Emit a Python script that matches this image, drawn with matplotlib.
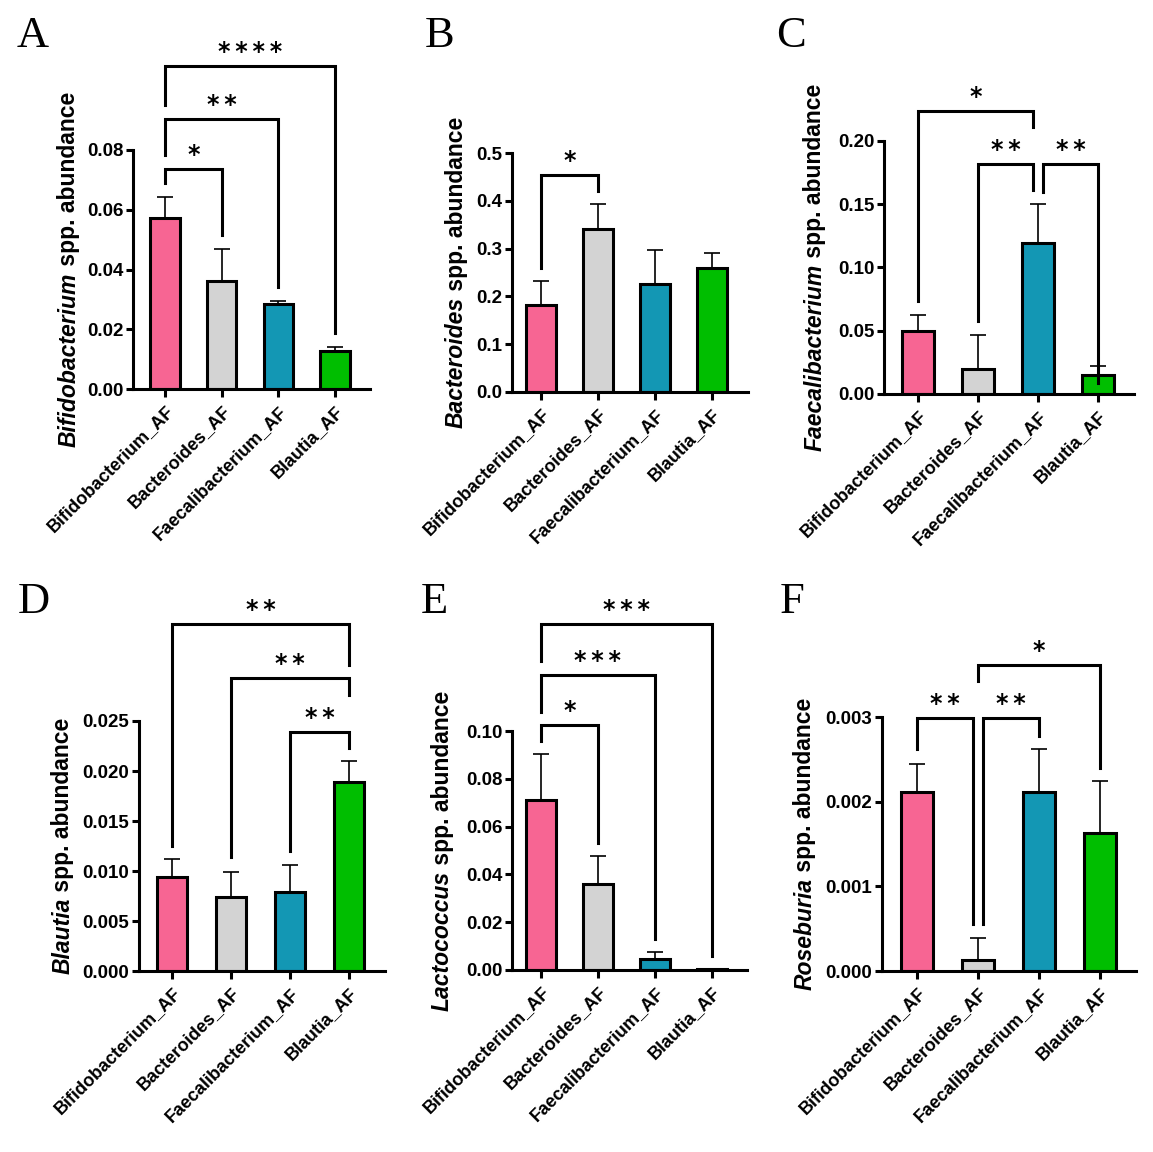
import numpy as np
import matplotlib
matplotlib.use("Agg")
import matplotlib.pyplot as plt

plt.rcParams['font.family'] = ['Liberation Sans', 'DejaVu Sans']

groups = ['Bifidobacterium_AF', 'Bacteroides_AF', 'Faecalibacterium_AF', 'Blautia_AF']
colors = ['#F76593', '#D3D3D3', '#1397B4', '#00BE00']
letters = ['A', 'B', 'C', 'D', 'E', 'F']
genus = ['Bifidobacterium', 'Bacteroides', 'Faecalibacterium', 'Blautia', 'Lactococcus', 'Roseburia']

# mean and upper error (sem) per panel
mean_A = [0.0572, 0.0362, 0.0284, 0.0127]
err_A = [0.0070, 0.0107, 0.0010, 0.0014]
mean_B = [0.183, 0.342, 0.226, 0.259]
err_B = [0.050, 0.051, 0.071, 0.031]
mean_C = [0.0495, 0.0197, 0.1197, 0.015]
err_C = [0.0131, 0.0271, 0.0303, 0.0068]
mean_D = [0.00944, 0.00745, 0.00795, 0.01887]
err_D = [0.00172, 0.00248, 0.00265, 0.00209]
mean_E = [0.0711, 0.0361, 0.0047, 0.0003]
err_E = [0.0193, 0.0115, 0.0027, 0.0001]
mean_F = [0.00211, 0.00013, 0.00211, 0.00163]
err_F = [0.00034, 0.00026, 0.00051, 0.00061]

ticks_A = [0, 0.02, 0.04, 0.06, 0.08]
ticks_B = [0, 0.1, 0.2, 0.3, 0.4, 0.5]
ticks_C = [0, 0.05, 0.10, 0.15, 0.20]
ticks_D = [0, 0.005, 0.010, 0.015, 0.020, 0.025]
ticks_E = [0, 0.02, 0.04, 0.06, 0.08, 0.10]
ticks_F = [0, 0.001, 0.002, 0.003]
fmt = ['%.2f', '%.1f', '%.2f', '%.3f', '%.2f', '%.3f']

# significance brackets: (group i, group j, label, bracket y, leg end i, leg end j)
sig_A = [(0, 1, '*', 0.0736, 0.0689, 0.0515),
         (0, 2, '**', 0.0905, 0.0782, 0.034),
         (0, 3, '****', 0.108, 0.0952, 0.0187)]
sig_B = [(0, 1, '*', 0.4535, 0.259, 0.421)]
sig_C = [(0, 1.92, '*', 0.224, 0.0737, 0.211),
         (1, 1.92, '**', 0.1816, 0.058, 0.161),
         (2.08, 3, '**', 0.1816, 0.160, 0.0084)]
sig_D = [(0, 3, '**', 0.03467, 0.01252, 0.0306),
         (1, 3, '**', 0.0293, 0.01136, 0.02765),
         (2, 3, '**', 0.02394, 0.01202, 0.02235)]
sig_E = [(0, 3, '***', 0.1449, 0.1292, 0.0058),
         (0, 2, '***', 0.1233, 0.108, 0.0128),
         (0, 1, '*', 0.1024, 0.0958, 0.0531)]
sig_F = [(1, 3, '*', 0.003609, 0.003424, 0.002396),
         (0, 0.917, '**', 0.002983, 0.002623, 0.000553),
         (1.083, 2, '**', 0.002983, 0.000553, 0.00278)]

means = [mean_A, mean_B, mean_C, mean_D, mean_E, mean_F]
errs = [err_A, err_B, err_C, err_D, err_E, err_F]
ticks = [ticks_A, ticks_B, ticks_C, ticks_D, ticks_E, ticks_F]
sigs = [sig_A, sig_B, sig_C, sig_D, sig_E, sig_F]

# layout in pixels: spine x, y of 0, y of top tick, first bar x, bar spacing, right end
boxes = [(133, 389, 150, 165, 56.7, 370),
         (512, 392, 153, 541, 57, 748),
         (884, 394, 141, 918, 60, 1134),
         (139, 971, 721, 172, 59, 385),
         (512, 970, 731, 541, 57, 747),
         (882, 971, 717, 917, 61, 1136)]
label_off = [64, 56, 69, 76, 70, 77]
letter_pos = [(17, 47), (425, 47), (776, 47), (18, 613), (421, 613), (780, 613)]

W, H = 1153, 1152
fig = plt.figure(figsize=(W / 100, H / 100), dpi=100)

lw = 2.2
ylabels = []
for k in range(6):
    sx, by, ty, fx, sp, rx = boxes[k]
    ax = fig.add_axes([sx / W, 1 - by / H, (rx - sx) / W, (by - ty) / H])
    x = np.arange(4)
    ax.errorbar(x, means[k], yerr=[np.zeros(4), errs[k]], fmt='none', ecolor='black',
                elinewidth=1.2, capsize=5.5, capthick=1.2, zorder=1)
    ax.bar(x, means[k], width=0.52, color=colors, edgecolor='black', linewidth=lw, zorder=2)
    ax.set_xlim(-(fx - sx) / sp, 3 + (rx - (fx + 3 * sp)) / sp)
    ax.set_ylim(0, ticks[k][-1])
    ax.set_yticks(ticks[k])
    ax.set_yticklabels([fmt[k] % t for t in ticks[k]], fontsize=13.5, fontweight='bold')
    ax.set_xticks(x)
    ax.set_xticklabels(groups, rotation=45, ha='right', rotation_mode='anchor',
                       fontsize=13, fontweight='bold')
    for s in ['top', 'right']:
        ax.spines[s].set_visible(False)
    for s in ['left', 'bottom']:
        ax.spines[s].set_linewidth(lw)
    ax.tick_params(axis='y', width=lw, length=5, pad=2)
    ax.tick_params(axis='x', width=lw, length=6, pad=4)

    for i, j, lab, yb, yi, yj in sigs[k]:
        ax.plot([i, i, j, j], [yi, yb, yb, yj], color='black', lw=lw,
                clip_on=False, solid_joinstyle='miter')
        ax.annotate('\u2009'.join(lab), xy=((i + j) / 2, yb), xytext=(0, 5),
                    textcoords='offset points', ha='center', va='baseline',
                    fontsize=17, fontweight='bold', family='DejaVu Sans',
                    annotation_clip=False)

    # y label: genus in bold italic, the rest in bold
    cx = (sx - label_off[k]) / W
    cy = 1 - (by + ty) / 2 / H
    t1 = fig.text(cx, cy, genus[k], rotation=90, ha='center', va='bottom',
                  fontsize=16.5, fontweight='bold', style='italic')
    t2 = fig.text(0, 0, ' spp. abundance', rotation=90, ha='center', va='bottom',
                  fontsize=16.5, fontweight='bold')
    ylabels.append((t1, t2, cx, cy))

    lx, ly = letter_pos[k]
    fig.text(lx / W, 1 - ly / H, letters[k], fontsize=32, family='Liberation Serif',
             ha='left', va='baseline')

fig.canvas.draw()
r = fig.canvas.get_renderer()
for t1, t2, cx, cy in ylabels:
    b1 = t1.get_window_extent(r)
    b2 = t2.get_window_extent(r)
    total = b1.height + b2.height
    y0 = cy * H - total / 2
    t1.set_position((cx, y0 / H))
    t2.set_position((cx, (y0 + b1.height) / H))

fig.savefig('out.png', dpi=100)
